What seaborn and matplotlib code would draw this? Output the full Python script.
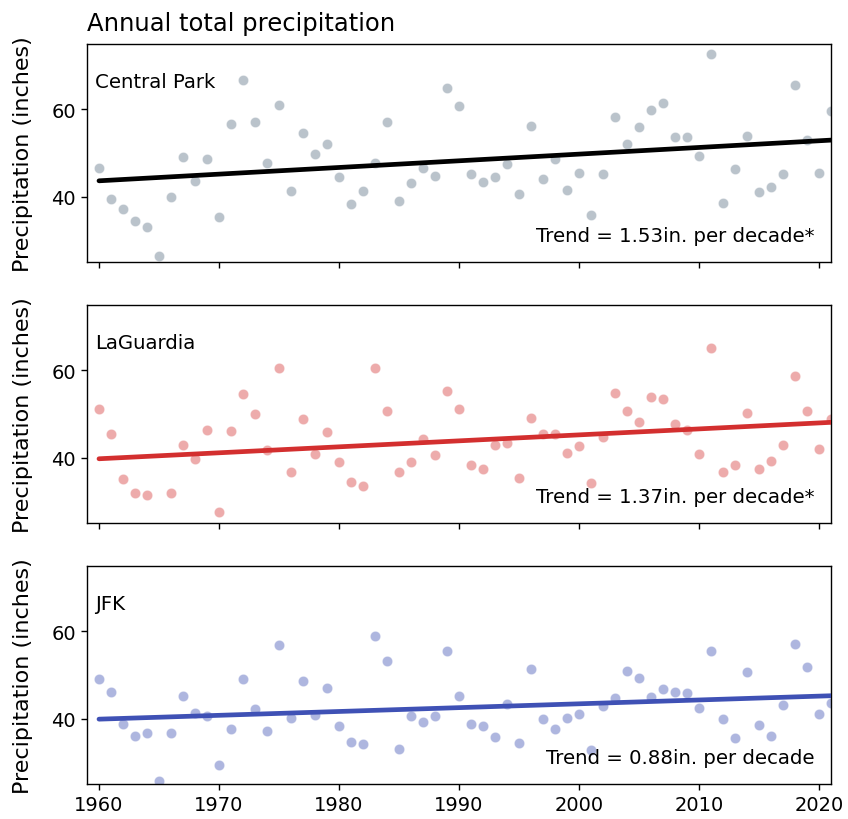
import numpy as np
import pandas as pd
import matplotlib
matplotlib.use("Agg")
import matplotlib.pyplot as plt
import seaborn as sns

years = list(range(1960, 2022))

central_park = [
    46.5, 39.4, 37.2, 34.5, 33.0, 26.3, 40.0, 49.1, 43.6, 48.6,
    35.4, 56.7, 66.8, 57.1, 47.7, 61.1, 41.4, 54.7, 49.8, 52.1,
    44.6, 38.3, 41.4, 47.6, 57.0, 38.9, 43.1, 46.5, 44.8, 64.8,
    60.8, 45.2, 43.3, 44.4, 47.4, 40.5, 56.1, 44.0, 48.6, 41.6,
    45.5, 35.8, 45.2, 58.3, 52.0, 55.9, 59.8, 61.5, 53.6, 53.6,
    49.4, 72.6, 38.6, 46.4, 53.8, 41.1, 42.3, 45.2, 65.5, 53.0,
    45.5, 59.6,
]

laguardia = [
    51.1, 45.3, 35.2, 31.9, 31.5, 23.0, 31.9, 43.0, 39.6, 46.3,
    27.6, 46.2, 54.5, 49.9, 41.7, 60.6, 36.7, 48.9, 40.8, 45.8,
    38.9, 34.3, 33.5, 60.6, 50.7, 36.7, 38.9, 44.3, 40.5, 55.2,
    51.1, 38.3, 37.4, 43.0, 43.4, 35.4, 49.1, 45.5, 45.5, 41.1,
    42.6, 34.1, 44.8, 54.8, 50.7, 48.1, 53.9, 53.4, 47.8, 46.4,
    40.8, 65.1, 36.8, 38.4, 50.3, 37.3, 39.3, 42.8, 58.6, 50.8,
    41.9, 48.9,
]

jfk = [
    49.0, 46.1, 38.7, 36.0, 36.7, 25.6, 36.7, 45.1, 41.3, 40.7,
    29.3, 37.5, 49.0, 42.1, 37.2, 56.9, 40.2, 48.6, 40.8, 47.1,
    38.4, 34.6, 34.2, 58.9, 53.1, 33.1, 40.5, 39.2, 40.7, 55.6,
    45.2, 38.8, 38.4, 35.7, 43.3, 34.5, 51.4, 39.8, 37.5, 40.1,
    41.1, 32.8, 43.0, 44.8, 50.9, 49.4, 44.9, 46.9, 46.1, 45.8,
    42.4, 55.5, 39.8, 35.5, 50.6, 38.5, 36.1, 43.1, 57.2, 51.9,
    41.0, 43.5,
]

stations = ["Central Park", "LaGuardia", "JFK"]
trend_per_decade = [1.53, 1.37, 0.88]
significant = [True, True, False]

point_colors = ["#778899", "#d32f2f", "#3f51b5"]
point_alpha = [0.5, 0.4, 0.42]
line_colors = ["#000000", "#d32f2f", "#3f51b5"]

x_ticks = [1960, 1970, 1980, 1990, 2000, 2010, 2020]
y_ticks = [40, 60]

sns.set_style("ticks")
plt.rcParams["font.family"] = ["DejaVu Sans"]
for key in ["axes.edgecolor", "xtick.color", "ytick.color", "text.color",
            "axes.labelcolor"]:
    plt.rcParams[key] = "black"
plt.rcParams["axes.linewidth"] = 1.0

fig, axes = plt.subplots(3, 1, figsize=(8.48, 8.2), dpi=100, sharex=True, sharey=True)
fig.subplots_adjust(left=87 / 848, right=831 / 848, top=1 - 45 / 820,
                    bottom=35 / 820, hspace=0.197)

series = [central_park, laguardia, jfk]
for i, ax in enumerate(axes):
    df = pd.DataFrame({"year": years, "precip": series[i]})
    sns.scatterplot(data=df, x="year", y="precip", ax=ax, color=point_colors[i],
                    alpha=point_alpha[i], s=55, edgecolor="white", linewidth=0.6,
                    zorder=2)

    # trend line: stated slope, passing through the mean of the record
    slope = trend_per_decade[i] / 10.0
    x_mean = np.mean(years)
    y_mean = np.mean(series[i])
    trend = pd.DataFrame({"year": years,
                          "fit": [y_mean + slope * (yr - x_mean) for yr in years]})
    sns.lineplot(data=trend, x="year", y="fit", ax=ax, color=line_colors[i],
                 linewidth=3.4, zorder=3)

    ax.set_xlim(1959, 2021)
    ax.set_ylim(25, 75)
    ax.set_xticks(x_ticks)
    ax.set_yticks(y_ticks)
    ax.tick_params(labelsize=14, length=4.5, width=1.0)
    ax.set_xlabel("")
    ax.set_ylabel("Precipitation (inches)", fontsize=16, labelpad=13)
    ax.text(0.011, 0.83, stations[i], transform=ax.transAxes, fontsize=14.2,
            ha="left", va="center")
    star = "*" if significant[i] else ""
    ax.text(0.978, 0.12, f"Trend = {trend_per_decade[i]:.2f}in. per decade{star}",
            transform=ax.transAxes, fontsize=14.2, ha="right", va="center")
    ax.grid(False)

axes[0].set_title("Annual total precipitation", loc="left", fontsize=17.5, pad=10)
fig.align_ylabels(axes)

fig.savefig("out.png", dpi=100)
